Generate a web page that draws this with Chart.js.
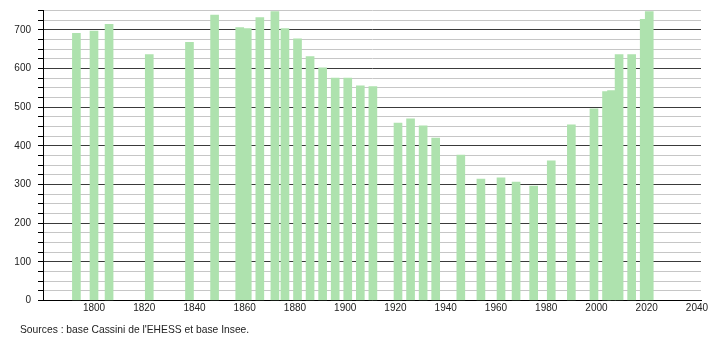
<!DOCTYPE html>
<html><head><meta charset="utf-8">
<script src="https://cdn.jsdelivr.net/npm/chart.js@4"></script>
<style>
html,body{margin:0;padding:0;background:#fff;}
#wrap{position:relative;width:710px;height:340px;}
#src{position:absolute;left:20px;top:323.5px;font:10.3px "Liberation Sans",Arial,sans-serif;color:#222;white-space:nowrap;line-height:12px;}
</style></head><body>
<div id="wrap"><canvas id="c" width="710" height="340"></canvas><div id="src">Sources : base Cassini de l'EHESS et base Insee.</div></div>
<script>
const years = [1793,1800,1806,1822,1838,1848,1858,1861,1866,1872,1876,1881,1886,1891,1896,1901,1906,1911,1921,1926,1931,1936,1946,1954,1962,1968,1975,1982,1990,1999,2004,2006,2009,2014,2019,2021];
const population = [691,697,714,636,668,738,706,703,732,747,703,677,631,602,575,575,555,553,459,470,452,420,376,314,317,306,296,361,454,496,540,543,636,636,727,747];
const xTicks = [1800,1820,1840,1860,1880,1900,1920,1940,1960,1980,2000,2020,2040];
const yLabelStep = 100;
const yGridStep = 25;

const font = {family:'"Liberation Sans", Arial, sans-serif', size:10};
new Chart(document.getElementById('c'), {
  type: 'bar',
  data: {
    datasets: [{
      data: years.map((y,i)=>({x:y, y:population[i]})),
      backgroundColor: 'rgb(174,226,174)',
      borderWidth: 0,
      barThickness: 8
    }]
  },
  options: {
    responsive: false,
    animation: false,
    devicePixelRatio: 1,
    layout: {padding: {left:0, right:9, top:10.5, bottom:0}},
    plugins: {legend:{display:false}, tooltip:{enabled:false}},
    scales: {
      x: {
        type: 'linear', min: 1779.7, max: 2041.6, offset: false,
        afterBuildTicks(s){ s.ticks = xTicks.map(v=>({value:v})); },
        afterFit(s){ s.height = 39.5; s.paddingLeft = 0; s.paddingRight = 0; },
        ticks: {padding: 2, color:'#222', font, maxRotation:0, autoSkip:false, callback: v => String(v)},
        grid: {display:true, drawOnChartArea:false, drawTicks:false, offset:false},
        border: {display:true, color:'#000', width:1}
      },
      y: {
        min: 0, max: 750,
        afterFit(s){ s.width = 43; s.paddingTop = 0; s.paddingBottom = 0; },
        ticks: {stepSize: yGridStep, autoSkip:false, padding:7, color:'#222', font,
          callback: v => (v % yLabelStep === 0 ? String(v) : '')},
        grid: {
          color: ctx => (ctx.tick && ctx.tick.value % yLabelStep === 0) ? '#3a3a3a' : '#c6c6c6',
          tickColor: '#000', tickLength: 5, drawTicks: true
        },
        border: {display:true, color:'#000', width:1}
      }
    }
  }
});
</script>
</body></html>
